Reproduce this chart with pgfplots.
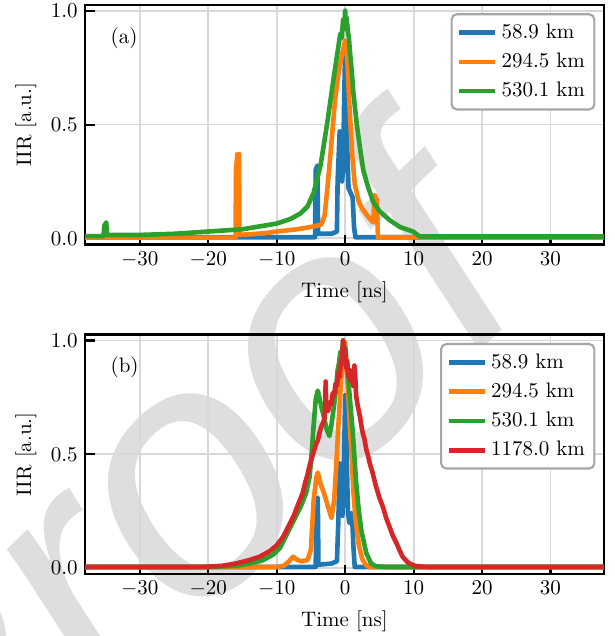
\documentclass[border=0pt]{standalone}
\usepackage{fontspec}
\newfontfamily\wmfont{Liberation Sans}
\usepackage{pgfplots}
\pgfplotsset{compat=1.18}

\definecolor{cblue}{HTML}{1F77B4}
\definecolor{corange}{HTML}{FF7F0E}
\definecolor{cgreen}{HTML}{2CA02C}
\definecolor{cred}{HTML}{D62728}
\definecolor{gridc}{RGB}{216,216,216}
\definecolor{wm}{RGB}{222,222,222}

\pgfplotsset{
  iir/.style={
    scale only axis, width=247pt, height=114pt,
    xmin=-38, xmax=37.8, ymin=-0.026, ymax=1.026,
    xtick={-30,-20,...,30}, ytick={0,0.5,1},
    yticklabel style={/pgf/number format/.cd, fixed, fixed zerofill, precision=1},
    tick align=inside, xtick pos=left, ytick pos=left,
    major tick length=4.5pt,
    every tick/.style={black, line width=1pt},
    grid=major, major grid style={gridc, line width=0.9pt},
    axis line style={line width=1.2pt},
    xlabel={Time [ns]}, ylabel={IIR [a.u.]},
    legend cell align=left,
    legend style={at={(1,1)}, anchor=north east, xshift=-4pt, yshift=-4pt,
      draw=black!35, line width=1pt, rounded corners=2.5pt, fill=white,
      inner sep=2.5pt, row sep=1.5pt},
    every axis plot/.append style={line width=2.2pt, line join=round},
  }
}

\begin{document}
\begin{tikzpicture}
% watermark behind everything
\node[anchor=base west, inner sep=0pt, rotate=44, text=wm,
      font=\wmfont\itshape\fontsize{167}{167}\selectfont] at (-70pt,-143pt) {Proof};

% (a)
\begin{axis}[iir, at={(0,157pt)}, anchor=south west]
\addplot[cblue] coordinates {
(-38,0.005)(-4.4,0.005)(-4.3,0.30)(-4.05,0.32)(-3.95,0.02)(-2,0.02)(-1.2,0.03)
(-1.1,0.25)(-0.8,0.47)(-0.6,0.40)(-0.45,0.25)(-0.3,0.30)(-0.15,0.6)(0,0.82)
(0.15,0.70)(0.35,0.35)(0.5,0.22)(0.8,0.20)(1.1,0.18)(1.3,0.05)(1.5,0.005)(37.8,0.005)};
\addlegendentry{58.9 km}
\addplot[corange] coordinates {
(-38,0.003)(-16.0,0.003)(-15.95,0.30)(-15.75,0.37)(-15.5,0.37)(-15.45,0.015)
(-12,0.022)(-10,0.03)(-7,0.04)(-5,0.05)(-3.5,0.06)(-3,0.10)(-2.5,0.25)(-2,0.42)
(-1.5,0.60)(-1,0.72)(-0.5,0.80)(0,0.87)(0.3,0.80)(0.6,0.60)(1.0,0.38)(1.4,0.24)
(2,0.16)(2.5,0.13)(3,0.11)(3.5,0.09)(4.1,0.07)(4.3,0.19)(4.6,0.17)(4.8,0.005)(37.8,0.005)};
\addlegendentry{294.5 km}
\addplot[cgreen] coordinates {
(-38,0.01)(-35.3,0.01)(-35.2,0.055)(-34.9,0.07)(-34.8,0.015)(-30,0.015)(-25,0.02)
(-20,0.03)(-15,0.04)(-12,0.055)(-10,0.065)(-8,0.085)(-6.5,0.11)(-5.5,0.14)
(-4.6,0.20)(-3.6,0.32)(-2.65,0.50)(-1.7,0.70)(-1.2,0.80)(-0.9,0.86)(-0.7,0.90)
(-0.5,0.88)(-0.3,0.96)(-0.15,0.92)(0,1.0)(0.1,0.93)(0.2,0.97)(0.4,0.91)
(0.55,0.88)(0.7,0.82)(0.95,0.74)(1.2,0.64)(1.45,0.57)(1.7,0.50)(2.2,0.39)
(2.65,0.30)(3.3,0.23)(4.1,0.16)(5,0.12)(6.5,0.08)(8,0.05)(9.9,0.03)
(10.9,0.008)(37.8,0.008)};
\addlegendentry{530.1 km}
\node[anchor=west] at (rel axis cs:0.035,0.86) {(a)};
\end{axis}

% (b)
\begin{axis}[iir, at={(0,0)}, anchor=south west]
\addplot[cblue] coordinates {
(-38,0.005)(-4.3,0.005)(-4.2,0.29)(-4.0,0.31)(-3.9,0.015)(-2,0.02)(-1.2,0.03)
(-1.0,0.20)(-0.8,0.46)(-0.6,0.38)(-0.4,0.23)(-0.2,0.40)(0,0.76)(0.2,0.55)
(0.4,0.25)(0.6,0.20)(0.8,0.24)(1.0,0.24)(1.2,0.10)(1.4,0.005)(37.8,0.005)};
\addlegendentry{58.9 km}
\addplot[corange] coordinates {
(-38,0.005)(-10,0.005)(-9,0.01)(-8.2,0.03)(-7.6,0.05)(-7.2,0.04)(-6.5,0.03)
(-5.5,0.035)(-5,0.08)(-4.6,0.30)(-4.2,0.40)(-4.0,0.42)(-3.6,0.37)(-3.1,0.33)
(-2.7,0.29)(-2.3,0.25)(-2.0,0.22)(-1.6,0.30)(-1.3,0.45)(-1.0,0.62)(-0.6,0.82)
(-0.3,0.92)(0,0.99)(0.2,0.90)(0.4,0.80)(0.7,0.62)(0.9,0.52)(1.2,0.34)(1.5,0.22)
(2.0,0.10)(2.5,0.04)(3.0,0.015)(3.5,0.005)(37.8,0.005)};
\addlegendentry{294.5 km}
\addplot[cgreen] coordinates {
(-38,0.005)(-20,0.005)(-16,0.01)(-14,0.02)(-12,0.035)(-10.5,0.06)(-9.5,0.09)
(-8.5,0.15)(-7.5,0.21)(-6.5,0.27)(-5.7,0.33)(-5.2,0.40)(-4.9,0.50)(-4.6,0.63)
(-4.3,0.74)(-4.0,0.78)(-3.7,0.74)(-3.4,0.70)(-3.0,0.65)(-2.7,0.61)(-2.3,0.58)
(-2.0,0.63)(-1.6,0.72)(-1.3,0.80)(-1.1,0.87)(-0.9,0.90)(-0.7,0.95)(-0.5,0.93)
(-0.3,1.0)(-0.15,0.95)(0,0.97)(0.15,0.90)(0.3,0.88)(0.65,0.76)(1.1,0.60)
(1.6,0.38)(2.0,0.25)(2.4,0.16)(3.1,0.065)(3.8,0.02)(4.5,0.008)(6,0.005)(37.8,0.005)};
\addlegendentry{530.1 km}
\addplot[cred] coordinates {
(-38,0.005)(-21,0.005)(-18,0.01)(-16,0.02)(-14,0.035)(-12.5,0.05)(-11,0.075)
(-10,0.10)(-9.5,0.12)(-9,0.14)(-8.5,0.17)(-8,0.20)(-7.5,0.23)(-7,0.27)(-6.6,0.30)
(-6.2,0.33)(-5.8,0.38)(-5.5,0.41)(-5.2,0.45)(-5,0.47)(-4.7,0.50)(-4.5,0.52)
(-4.2,0.55)(-4,0.56)(-3.7,0.60)(-3.5,0.62)(-3.2,0.64)(-3,0.66)(-2.9,0.72)
(-2.85,0.82)(-2.75,0.70)(-2.5,0.69)(-2.2,0.73)(-2.0,0.72)(-1.8,0.77)(-1.6,0.76)
(-1.4,0.81)(-1.2,0.80)(-1,0.86)(-0.8,0.84)(-0.6,0.92)(-0.45,0.90)(-0.3,1.0)
(-0.15,0.94)(0,0.96)(0.15,0.88)(0.3,0.91)(0.5,0.84)(0.65,0.87)(0.8,0.82)
(1.0,0.84)(1.2,0.80)(1.35,0.89)(1.45,0.86)(1.6,0.76)(1.8,0.72)(2,0.69)(2.2,0.66)
(2.4,0.62)(2.6,0.59)(2.8,0.57)(3.1,0.52)(3.3,0.50)(3.6,0.46)(4.0,0.42)(4.5,0.36)
(5,0.31)(5.5,0.27)(6,0.22)(6.5,0.18)(7,0.14)(7.5,0.11)(8,0.075)(8.4,0.05)
(9,0.03)(9.4,0.02)(10.4,0.008)(12,0.005)(37.8,0.005)};
\addlegendentry{1178.0 km}
\node[anchor=west] at (rel axis cs:0.035,0.865) {(b)};
\end{axis}

\pgfresetboundingbox
\useasboundingbox (-40.5pt,-29.5pt) rectangle (251.9pt,273.3pt);
\end{tikzpicture}
\end{document}
